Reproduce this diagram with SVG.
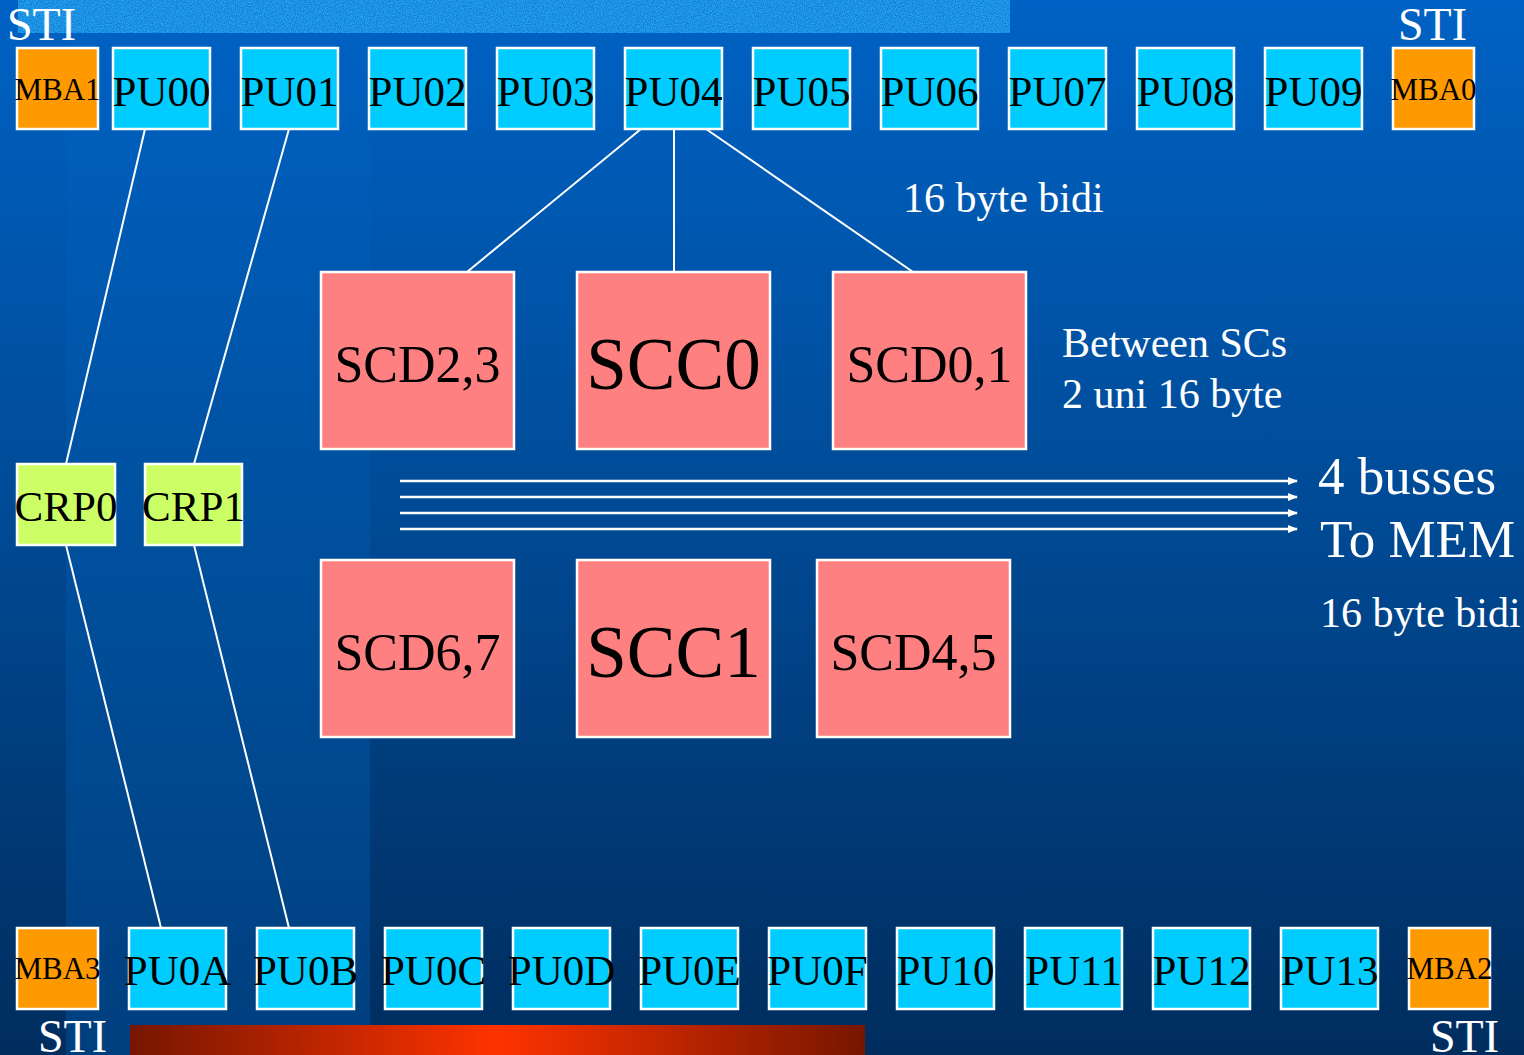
<svg xmlns="http://www.w3.org/2000/svg" width="1524" height="1055" viewBox="0 0 1524 1055">
  <defs>
    <linearGradient id="bg" x1="0" y1="0" x2="0" y2="1">
      <stop offset="0" stop-color="#0062c4"/>
      <stop offset="0.45" stop-color="#004c99"/>
      <stop offset="1" stop-color="#002d5e"/>
    </linearGradient>
    <linearGradient id="band" x1="0" y1="0" x2="0" y2="1">
      <stop offset="0" stop-color="#0062c4"/>
      <stop offset="0.45" stop-color="#0052a2"/>
      <stop offset="1" stop-color="#003f7e"/>
    </linearGradient>
    <linearGradient id="redbar" x1="0" y1="0" x2="1" y2="0">
      <stop offset="0" stop-color="#761600"/>
      <stop offset="0.5" stop-color="#ff3300"/>
      <stop offset="1" stop-color="#761600"/>
    </linearGradient>
    <filter id="speckle" x="0" y="0" width="1" height="1" color-interpolation-filters="sRGB">
      <feTurbulence type="fractalNoise" baseFrequency="0.9" numOctaves="2" seed="3" result="n"/>
      <feColorMatrix in="n" type="matrix" values="0 0 0 0 0.14  0 0 0 0 0.64  0 0 0 0 0.94  0 0 0 -3 2" result="c"/>
      <feComposite in="c" in2="SourceGraphic" operator="in" result="s"/>
      <feMerge><feMergeNode in="SourceGraphic"/><feMergeNode in="s"/></feMerge>
    </filter>
    <marker id="arrow" markerWidth="10" markerHeight="10" refX="9" refY="5" orient="auto" markerUnits="userSpaceOnUse">
      <path d="M0,1 L10,5 L0,9 Z" fill="#ffffff"/>
    </marker>
  </defs>
  <style>
    .box { stroke: #ffffff; stroke-width: 2.5; }
    .pu { fill: #00ccff; }
    .mba { fill: #ff9900; }
    .crp { fill: #ccff66; }
    .sc { fill: #ff8080; }
    text { font-family: "Liberation Serif", "Times New Roman", serif; text-anchor: middle; fill: #000000; }
    .lbl { font-size: 43px; }
    .small { font-size: 31px; }
    .scd { font-size: 52px; }
    .scc { font-size: 73px; }
    .note { fill: #ffffff; font-size: 42px; text-anchor: start; }
    .big { fill: #ffffff; font-size: 53px; text-anchor: start; }
    .sti { fill: #ffffff; font-size: 46px; text-anchor: start; }
    .wire { stroke: #ffffff; stroke-width: 2; fill: none; }
    .bus { stroke: #ffffff; stroke-width: 2.5; fill: none; }
  </style>

  <!-- background -->
  <rect x="0" y="0" width="1524" height="1055" fill="url(#bg)"/>
  <rect x="66" y="0" width="304" height="1055" fill="url(#band)"/>
  <rect x="18" y="0" width="992" height="33" fill="#1580d6" filter="url(#speckle)"/>
  <rect x="130" y="1025" width="735" height="30" fill="url(#redbar)"/>

  <!-- STI labels -->
  <text class="sti" x="7" y="40">STI</text>
  <text class="sti" x="1398" y="40">STI</text>
  <text class="sti" x="38" y="1052">STI</text>
  <text class="sti" x="1430" y="1052">STI</text>

  <!-- connectors -->
  <g id="connectors">
    <line class="wire" x1="145" y1="129" x2="66" y2="464"/>
    <line class="wire" x1="289" y1="129" x2="194" y2="464"/>
    <line class="wire" x1="66" y1="545" x2="161" y2="928"/>
    <line class="wire" x1="194" y1="545" x2="289" y2="928"/>
    <line class="wire" x1="641" y1="129" x2="467" y2="272"/>
    <line class="wire" x1="674" y1="129" x2="674" y2="272"/>
    <line class="wire" x1="706" y1="129" x2="913" y2="272"/>
    <line class="bus" x1="400" y1="481" x2="1297" y2="481" marker-end="url(#arrow)"/>
    <line class="bus" x1="400" y1="497" x2="1297" y2="497" marker-end="url(#arrow)"/>
    <line class="bus" x1="400" y1="513" x2="1297" y2="513" marker-end="url(#arrow)"/>
    <line class="bus" x1="400" y1="529" x2="1297" y2="529" marker-end="url(#arrow)"/>
  </g>

  <!-- top row -->
  <g id="MBA1"><rect class="box mba" x="17" y="48" width="81" height="81"/><text class="small" x="57.5" y="100">MBA1</text></g>
  <g id="PU00"><rect class="box pu" x="113" y="48" width="97" height="81"/><text class="lbl" x="161.5" y="106">PU00</text></g>
  <g id="PU01"><rect class="box pu" x="241" y="48" width="97" height="81"/><text class="lbl" x="289.5" y="106">PU01</text></g>
  <g id="PU02"><rect class="box pu" x="369" y="48" width="97" height="81"/><text class="lbl" x="417.5" y="106">PU02</text></g>
  <g id="PU03"><rect class="box pu" x="497" y="48" width="97" height="81"/><text class="lbl" x="545.5" y="106">PU03</text></g>
  <g id="PU04"><rect class="box pu" x="625" y="48" width="97" height="81"/><text class="lbl" x="673.5" y="106">PU04</text></g>
  <g id="PU05"><rect class="box pu" x="753" y="48" width="97" height="81"/><text class="lbl" x="801.5" y="106">PU05</text></g>
  <g id="PU06"><rect class="box pu" x="881" y="48" width="97" height="81"/><text class="lbl" x="929.5" y="106">PU06</text></g>
  <g id="PU07"><rect class="box pu" x="1009" y="48" width="97" height="81"/><text class="lbl" x="1057.5" y="106">PU07</text></g>
  <g id="PU08"><rect class="box pu" x="1137" y="48" width="97" height="81"/><text class="lbl" x="1185.5" y="106">PU08</text></g>
  <g id="PU09"><rect class="box pu" x="1265" y="48" width="97" height="81"/><text class="lbl" x="1313.5" y="106">PU09</text></g>
  <g id="MBA0"><rect class="box mba" x="1393" y="48" width="81" height="81"/><text class="small" x="1433.5" y="100">MBA0</text></g>

  <!-- CRP nodes -->
  <g id="CRP0"><rect class="box crp" x="17" y="464" width="98" height="81"/><text class="lbl" x="66" y="521">CRP0</text></g>
  <g id="CRP1"><rect class="box crp" x="145" y="464" width="97" height="81"/><text class="lbl" x="193.5" y="521">CRP1</text></g>

  <!-- storage controllers -->
  <g id="SCD23"><rect class="box sc" x="321" y="272" width="193" height="177"/><text class="scd" x="417.5" y="382">SCD2,3</text></g>
  <g id="SCC0"><rect class="box sc" x="577" y="272" width="193" height="177"/><text class="scc" x="673.5" y="389">SCC0</text></g>
  <g id="SCD01"><rect class="box sc" x="833" y="272" width="193" height="177"/><text class="scd" x="929.5" y="382">SCD0,1</text></g>
  <g id="SCD67"><rect class="box sc" x="321" y="560" width="193" height="177"/><text class="scd" x="417.5" y="670">SCD6,7</text></g>
  <g id="SCC1"><rect class="box sc" x="577" y="560" width="193" height="177"/><text class="scc" x="673.5" y="677">SCC1</text></g>
  <g id="SCD45"><rect class="box sc" x="817" y="560" width="193" height="177"/><text class="scd" x="913.5" y="670">SCD4,5</text></g>

  <!-- bottom row -->
  <g id="MBA3"><rect class="box mba" x="17" y="928" width="81" height="81"/><text class="small" x="57.5" y="979">MBA3</text></g>
  <g id="PU0A"><rect class="box pu" x="129" y="928" width="97" height="81"/><text class="lbl" x="177.5" y="985">PU0A</text></g>
  <g id="PU0B"><rect class="box pu" x="257" y="928" width="97" height="81"/><text class="lbl" x="305.5" y="985">PU0B</text></g>
  <g id="PU0C"><rect class="box pu" x="385" y="928" width="97" height="81"/><text class="lbl" x="433.5" y="985">PU0C</text></g>
  <g id="PU0D"><rect class="box pu" x="513" y="928" width="97" height="81"/><text class="lbl" x="561.5" y="985">PU0D</text></g>
  <g id="PU0E"><rect class="box pu" x="641" y="928" width="97" height="81"/><text class="lbl" x="689.5" y="985">PU0E</text></g>
  <g id="PU0F"><rect class="box pu" x="769" y="928" width="97" height="81"/><text class="lbl" x="817.5" y="985">PU0F</text></g>
  <g id="PU10"><rect class="box pu" x="897" y="928" width="97" height="81"/><text class="lbl" x="945.5" y="985">PU10</text></g>
  <g id="PU11"><rect class="box pu" x="1025" y="928" width="97" height="81"/><text class="lbl" x="1073.5" y="985">PU11</text></g>
  <g id="PU12"><rect class="box pu" x="1153" y="928" width="97" height="81"/><text class="lbl" x="1201.5" y="985">PU12</text></g>
  <g id="PU13"><rect class="box pu" x="1281" y="928" width="97" height="81"/><text class="lbl" x="1329.5" y="985">PU13</text></g>
  <g id="MBA2"><rect class="box mba" x="1409" y="928" width="81" height="81"/><text class="small" x="1449.5" y="979">MBA2</text></g>

  <!-- annotations -->
  <text class="note" x="903" y="212">16 byte bidi</text>
  <text class="note" x="1062" y="357">Between SCs</text>
  <text class="note" x="1062" y="408">2 uni 16 byte</text>
  <text class="big" x="1318" y="494">4 busses</text>
  <text class="big" x="1320" y="557">To MEM</text>
  <text class="note" x="1320" y="627">16 byte bidi</text>
</svg>
